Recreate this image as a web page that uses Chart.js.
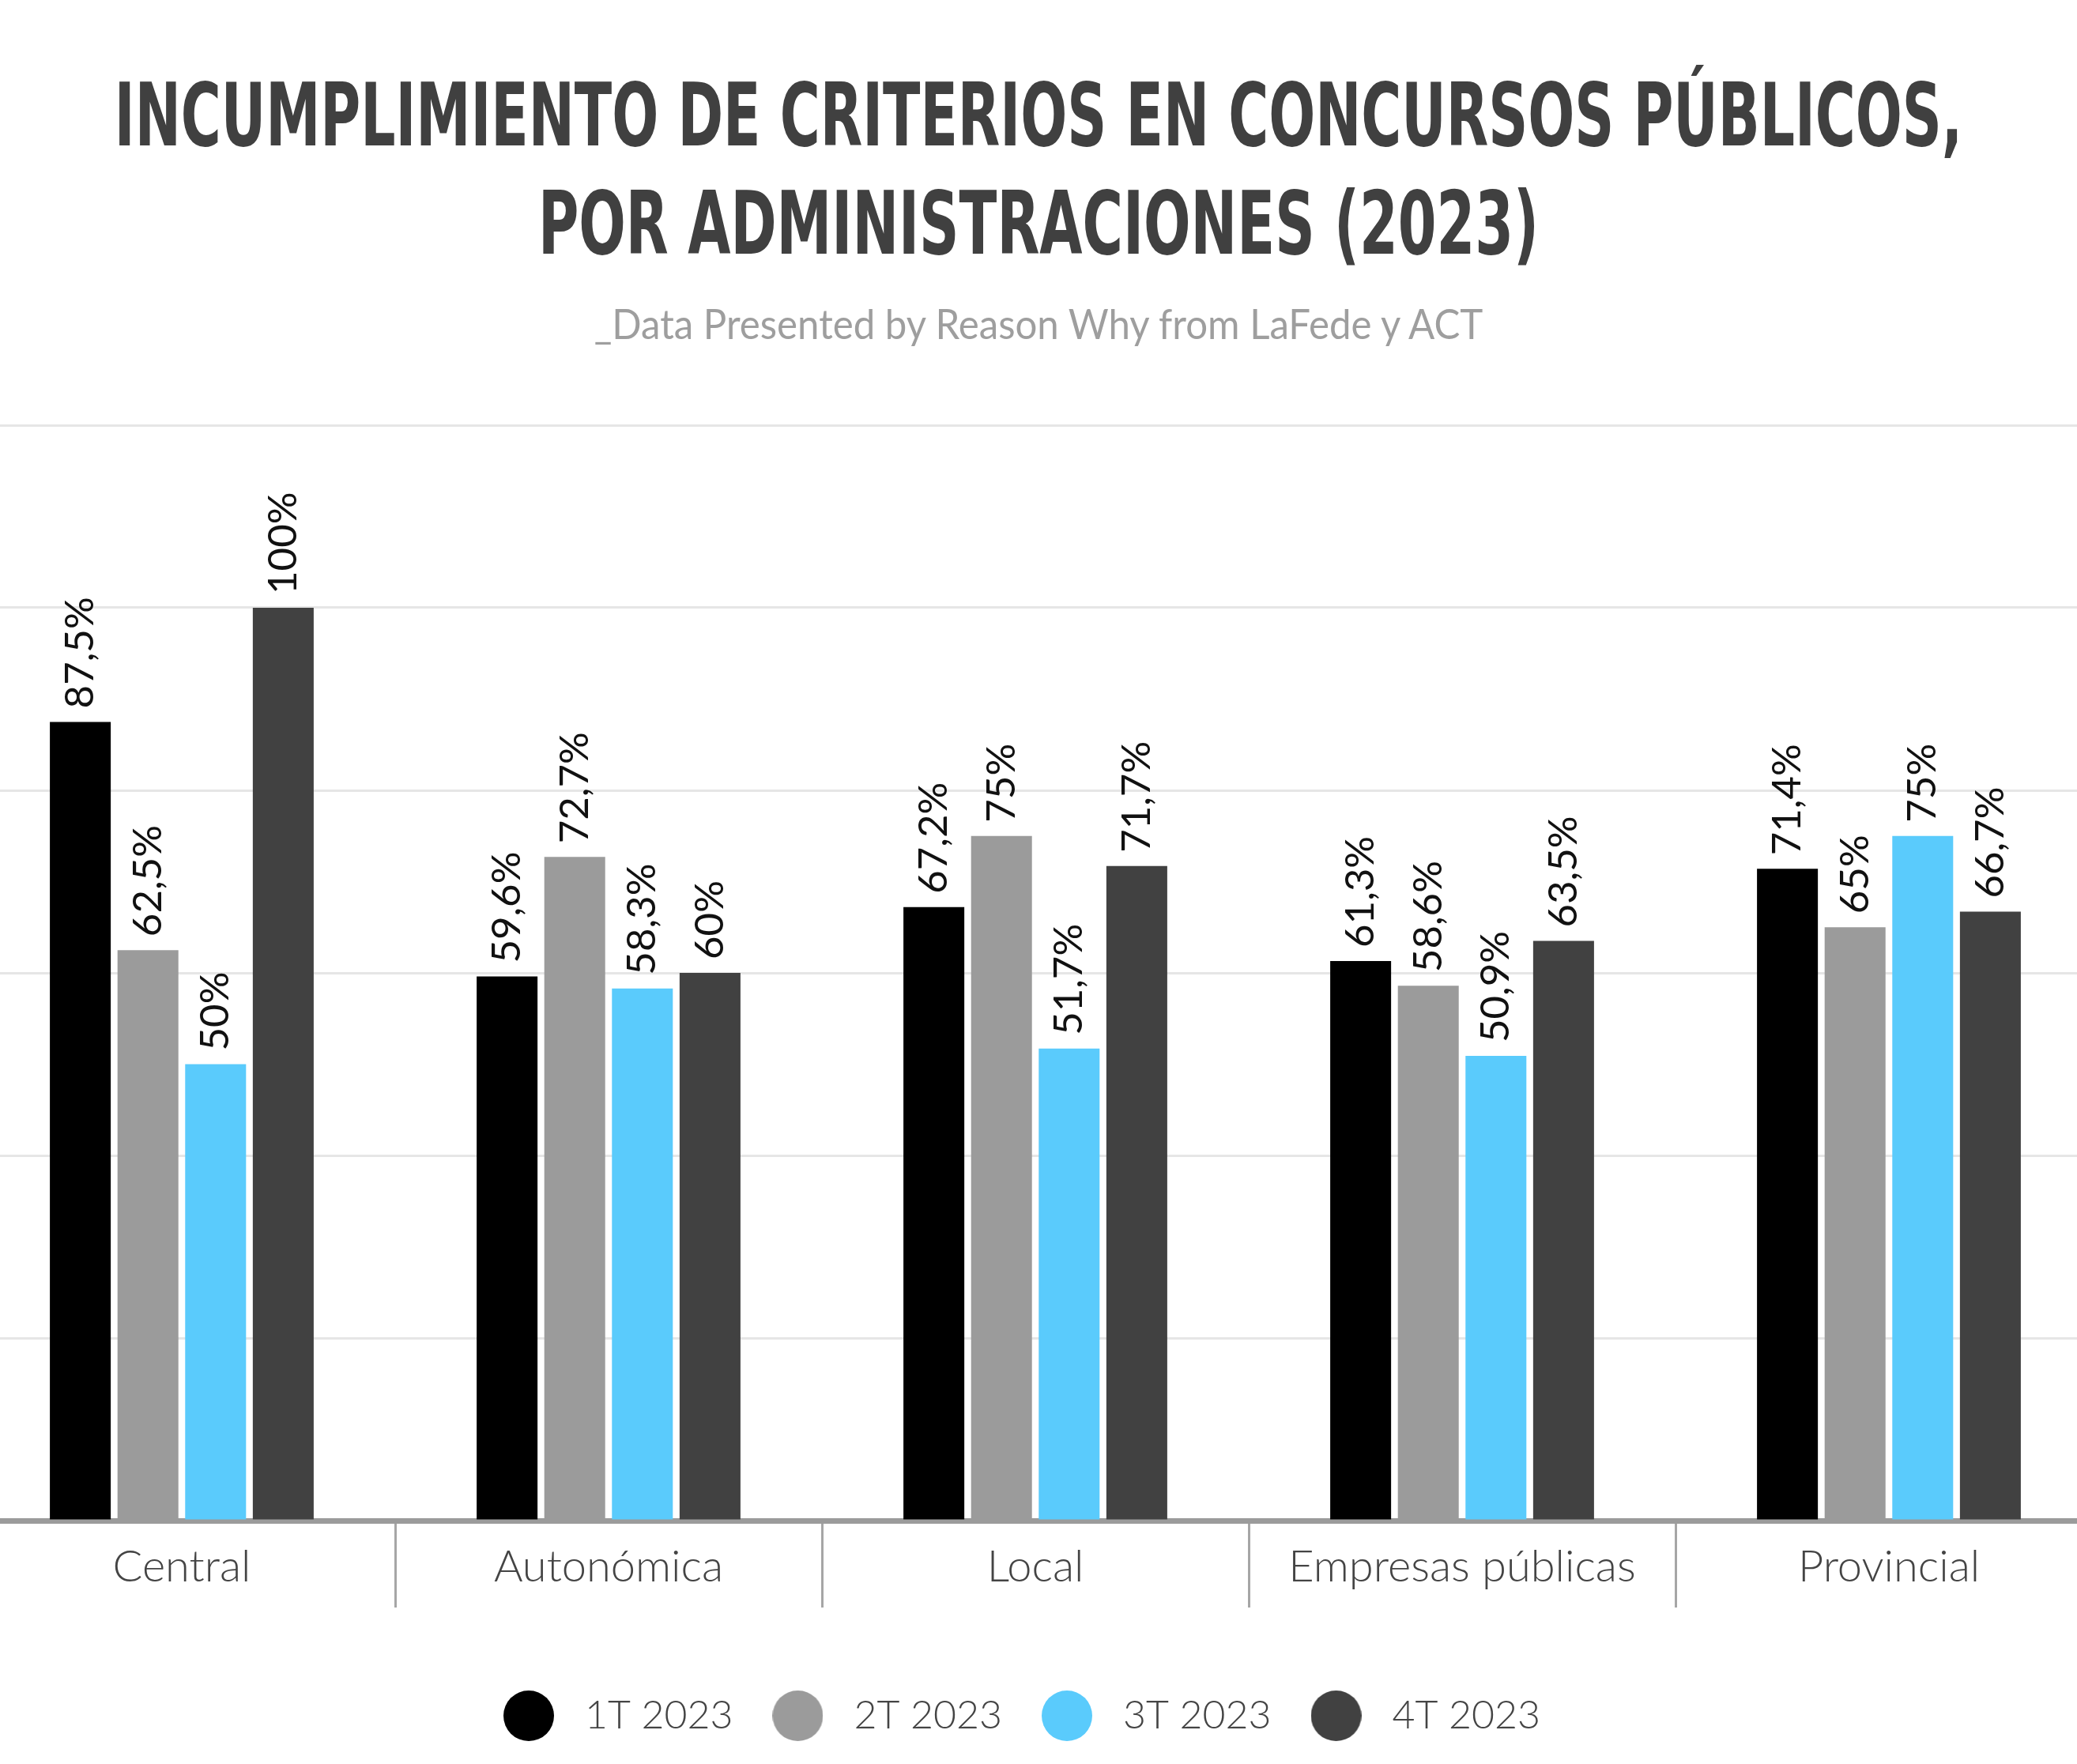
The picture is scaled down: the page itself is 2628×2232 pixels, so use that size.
<!DOCTYPE html>
<html lang="es">
<head>
<meta charset="utf-8">
<title>Incumplimiento de criterios en concursos públicos</title>
<script src="https://cdn.jsdelivr.net/npm/chart.js@4.4.1/dist/chart.umd.min.js"></script>
<style>
  html, body { margin: 0; padding: 0; width: 2628px; height: 2232px; overflow: hidden; background: #fff; }
  .linea { position: absolute; left: 0; width: 2628px; white-space: nowrap; }
  .linea span { position: absolute; left: 50%; top: 0; display: inline-block; transform-origin: 50% 50%; }
  #t1, #t2 {
    font-family: "Liberation Sans Narrow", "DejaVu Sans Condensed", "Roboto", sans-serif;
    font-weight: 700; font-size: 110px; line-height: 110px; color: #404040;
  }
  #t1 { top: 91px; }
  #t2 { top: 228px; }
  #sub { top: 383px; font-family: "Lato", sans-serif; font-size: 52px; line-height: 52px; color: #9e9e9e; }
  #grafica { position: absolute; left: -40px; top: 480px; }
</style>
</head>
<body>
<div class="linea" id="t1"><span>INCUMPLIMIENTO DE CRITERIOS EN CONCURSOS PÚBLICOS,</span></div>
<div class="linea" id="t2"><span>POR ADMINISTRACIONES (2023)</span></div>
<div class="linea" id="sub"><span>_Data Presented by Reason Why from LaFede y ACT</span></div>
<canvas id="grafica" width="2700" height="1726"></canvas>
<script>
const categorias = ['Central', 'Autonómica', 'Local', 'Empresas públicas', 'Provincial'];
const series = ['1T 2023', '2T 2023', '3T 2023', '4T 2023'];
const valores1T = [87.5, 59.6, 67.2, 61.3, 71.4];
const valores2T = [62.5, 72.7, 75, 58.6, 65];
const valores3T = [50, 58.3, 51.7, 50.9, 75];
const valores4T = [100, 60, 71.7, 63.5, 66.7];
const colores = ['#000000', '#9b9b9b', '#5acbfc', '#414141'];
const ejeMax = 120;
const ejePaso = 20;

// comprime cada linea hasta el ancho que tiene en la referencia
function ajustar(id, ancho) {
    const el = document.querySelector('#' + id + ' span');
    const w = el.offsetWidth;
    el.style.transform = 'translateX(-50%) scaleX(' + (ancho / w) + ')';
}
function ajustarTextos() {
    ajustar('t1', 2338);
    ajustar('t2', 1266);
    ajustar('sub', 1125);
}
ajustarTextos();
if (document.fonts) document.fonts.ready.then(ajustarTextos);

// circulo de la leyenda
function circulo(color) {
    const c = document.createElement('canvas');
    c.width = 64;
    c.height = 64;
    const g = c.getContext('2d');
    g.fillStyle = color;
    g.beginPath();
    g.arc(32, 32, 32, 0, Math.PI * 2);
    g.fill();
    return c;
}

// etiquetas giradas encima de cada barra
const etiquetas = {
    id: 'etiquetas',
    afterDatasetsDraw(chart) {
        const ctx = chart.ctx;
        ctx.save();
        ctx.font = '400 51px Lato';
        ctx.fillStyle = '#111111';
        ctx.textAlign = 'left';
        ctx.textBaseline = 'middle';
        chart.data.datasets.forEach(function(ds, i) {
            chart.getDatasetMeta(i).data.forEach(function(barra, j) {
                const texto = String(ds.data[j]).replace('.', ',') + '%';
                ctx.save();
                ctx.translate(barra.x, barra.y - 17);
                ctx.rotate(-Math.PI / 2);
                ctx.fillText(texto, 0, 0);
                ctx.restore();
            });
        });
        ctx.restore();
    }
};

// la leyenda del original esta algo desplazada a la izquierda
const moverLeyenda = {
    id: 'moverLeyenda',
    afterLayout(chart) {
        if (chart.legend) {
            chart.legend.left -= 24;
            chart.legend.right -= 24;
        }
    }
};

const datasets = [valores1T, valores2T, valores3T, valores4T].map(function(valores, i) {
    return {
        label: series[i],
        data: valores,
        backgroundColor: colores[i],
        borderWidth: 0,
        categoryPercentage: 0.634,
        barPercentage: 0.9
    };
});

new Chart(document.getElementById('grafica'), {
    type: 'bar',
    data: { labels: categorias, datasets },
    options: {
        responsive: false,
        animation: false,
        devicePixelRatio: 1,
        layout: { padding: { top: 58, left: 0, right: 0, bottom: 0 } },
        plugins: {
            title: { display: false },
            tooltip: { enabled: false },
            legend: {
                position: 'bottom',
                labels: {
                    usePointStyle: true,
                    boxHeight: 52,
                    pointStyleWidth: 92,
                    padding: 36,
                    color: '#444444',
                    font: { family: 'Lato', size: 50, weight: '300' },
                    generateLabels: function(chart) {
                        const items = Chart.defaults.plugins.legend.labels.generateLabels(chart);
                        items.forEach(function(item, i) {
                            item.pointStyle = circulo(colores[i]);
                        });
                        return items;
                    }
                }
            }
        },
        scales: {
            x: {
                grid: {
                    display: true,
                    drawOnChartArea: false,
                    drawTicks: true,
                    tickLength: 110,
                    offset: true,
                    color: '#a6a6a6',
                    lineWidth: 3
                },
                border: { display: true, color: '#9b9b9b', width: 7 },
                ticks: { padding: -85, color: '#444444', font: { family: 'Lato', size: 56, weight: '300' } },
                afterFit: function(scale) { scale.height = 186; }
            },
            y: {
                min: 0,
                max: ejeMax,
                ticks: { display: false, stepSize: ejePaso },
                grid: { color: '#e6e6e6', lineWidth: 3, drawTicks: false },
                border: { display: false }
            }
        }
    },
    plugins: [etiquetas, moverLeyenda]
});
</script>
</body>
</html>
